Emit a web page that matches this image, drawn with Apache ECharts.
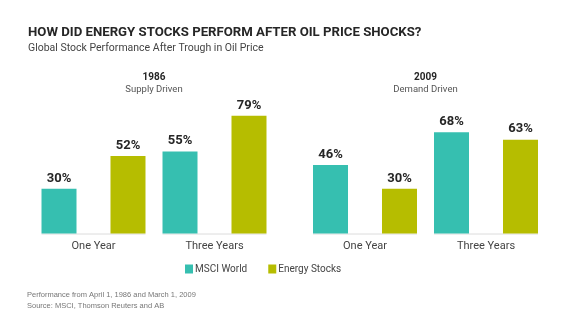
<!DOCTYPE html>
<html>
<head>
<meta charset="utf-8">
<style>
  html, body { margin: 0; padding: 0; background: #ffffff; }
  #chart { width: 580px; height: 334px; }
</style>
<script src="https://cdn.jsdelivr.net/npm/echarts@6/dist/echarts.min.js"></script>
</head>
<body>
<div id="chart"></div>
<script>
// Performance after the oil price trough, by horizon
const periods = ['One Year', 'Three Years'];
const msci1986 = [30, 55];
const energy1986 = [52, 79];
const msci2009 = [46, 68];
const energy2009 = [30, 63];

const seriesNames = ['MSCI World', 'Energy Stocks'];
const panelYears = ['1986', '2009'];
const panelDrivers = ['Supply Driven', 'Demand Driven'];

const TEAL = '#36BFB0';
const OLIVE = '#B6BD00';
const BAR_W = 35;
const BAR_GAP = 34;
const FONT = 'Roboto, "Liberation Sans", sans-serif';

const chart = echarts.init(document.getElementById('chart'), null, { renderer: 'canvas' });

const grids = [
  { left: 33, width: 242, top: 84.5, height: 149 },
  { left: 304.5, width: 242, top: 84.5, height: 149 }
];

function barSeries(name, data, color, idx) {
  return {
    type: 'bar',
    name: name,
    xAxisIndex: idx,
    yAxisIndex: idx,
    data: data,
    barWidth: BAR_W,
    barGap: (BAR_GAP / BAR_W * 100).toFixed(1) + '%',
    itemStyle: { color: color },
    label: {
      show: true,
      position: 'top',
      distance: 4,
      formatter: '{c}%',
      color: '#262626',
      fontFamily: FONT,
      fontWeight: 'bold',
      fontSize: 13
    },
    emphasis: { disabled: true }
  };
}

// faint baseline under each pair of bars
function baselineSeries(idx) {
  return {
    type: 'custom',
    xAxisIndex: idx,
    yAxisIndex: idx,
    silent: true,
    data: periods.map((p, i) => [i, 0]),
    renderItem: function (params, api) {
      const c = api.coord([api.value(0), 0]);
      const half = BAR_W + BAR_GAP / 2;
      return {
        type: 'line',
        shape: { x1: c[0] - half, y1: c[1] + 0.5, x2: c[0] + half, y2: c[1] + 0.5 },
        style: { stroke: '#dcdcdc', lineWidth: 1 }
      };
    },
    z: 1
  };
}

function panelTitles(idx) {
  const g = grids[idx];
  const cx = g.left + g.width / 2;
  return [
    {
      text: panelYears[idx], left: cx, top: 72, textAlign: 'center', padding: 0,
      textStyle: { fontFamily: FONT, fontWeight: 'bold', fontSize: 10, color: '#262626' }
    },
    {
      text: panelDrivers[idx], left: cx, top: 85, textAlign: 'center', padding: 0,
      textStyle: { fontFamily: FONT, fontWeight: 'normal', fontSize: 9.5, color: '#555555' }
    }
  ];
}

const option = {
  backgroundColor: '#ffffff',
  animation: false,
  title: [
    {
      text: 'HOW DID ENERGY STOCKS PERFORM AFTER OIL PRICE SHOCKS?',
      left: 28, top: 26, padding: 0,
      textStyle: { fontFamily: FONT, fontWeight: 'bold', fontSize: 13.2, color: '#262626' }
    },
    {
      text: 'Global Stock Performance After Trough in Oil Price',
      left: 28, top: 43, padding: 0,
      textStyle: { fontFamily: FONT, fontWeight: 'normal', fontSize: 10.5, color: '#444444' }
    },
    ...panelTitles(0),
    ...panelTitles(1),
    {
      text: 'Performance from April 1, 1986 and March 1, 2009\nSource: MSCI, Thomson Reuters and AB',
      left: 27, top: 290, padding: 0,
      textStyle: { fontFamily: '"Liberation Sans", Arial, sans-serif', fontWeight: 'normal', fontSize: 7.5, color: '#777777', lineHeight: 10.5 }
    }
  ],
  legend: {
    data: seriesNames,
    left: 185, top: 264, padding: 0,
    itemWidth: 8, itemHeight: 9, itemGap: 21,
    icon: 'rect',
    textStyle: { fontFamily: FONT, fontSize: 10, color: '#444444', padding: [0, 0, 0, -3] },
    selectedMode: false
  },
  grid: grids,
  xAxis: [0, 1].map(i => ({
    type: 'category',
    gridIndex: i,
    data: periods,
    axisLine: { show: false },
    axisTick: { show: false },
    axisLabel: { fontFamily: FONT, fontSize: 11, color: '#444444', margin: 7 }
  })),
  yAxis: [0, 1].map(i => ({
    type: 'value',
    gridIndex: i,
    min: 0, max: 100,
    show: false,
    splitLine: { show: false }
  })),
  series: [
    baselineSeries(0),
    baselineSeries(1),
    barSeries(seriesNames[0], msci1986, TEAL, 0),
    barSeries(seriesNames[1], energy1986, OLIVE, 0),
    barSeries(seriesNames[0], msci2009, TEAL, 1),
    barSeries(seriesNames[1], energy2009, OLIVE, 1)
  ]
};

chart.setOption(option);
</script>
</body>
</html>
